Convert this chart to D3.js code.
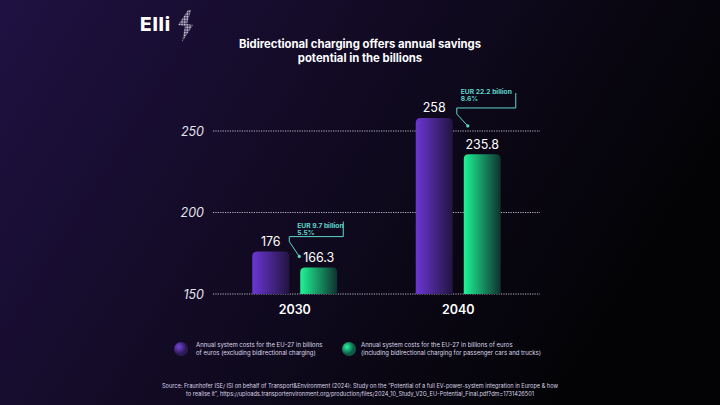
<!DOCTYPE html>
<html>
<head>
<meta charset="utf-8">
<script src="https://cdn.jsdelivr.net/npm/d3@7"></script>
<style>
  html, body { margin: 0; padding: 0; background: #0a0812; }
  svg { display: block; }
  text { font-family: Inter, "Noto Sans", sans-serif; }
</style>
</head>
<body>
<svg id="chart" width="720" height="405"></svg>
<script>
// chart values
const years = ["2030", "2040"];
const series = ["without", "with"];
const withoutV2G = [176, 258];
const withV2G = [166.3, 235.8];
const yTicks = [150, 200, 250];
const savingsText = [["EUR 9.7 billion", "5.5%"], ["EUR 22.2 billion", "8.6%"]];
const legendText = [
    ["Annual system costs for the EU-27 in billions", "of euros (excluding bidirectional charging)"],
    ["Annual system costs for the EU-27 in billions of euros", "(including bidirectional charging for passenger cars and trucks)"]
];
const titleLines = ["Bidirectional charging offers annual savings", "potential in the billions"];
const sourceLines = [
    "Source: Fraunhofer ISE/ ISI on behalf of Transport&Environment (2024): Study on the \u201cPotential of a full EV-power-system integration in Europe & how",
    "to realise it\u201d, https://uploads.transportenvironment.org/production/files/2024_10_Study_V2G_EU-Potential_Final.pdf?dm=1731426501"
];

const svg = d3.select("#chart");
const defs = svg.append("defs");

// background
let bg = defs.append("linearGradient").attr("id", "bg").attr("x1", 0).attr("y1", 0).attr("x2", 1).attr("y2", 0.35);
bg.append("stop").attr("offset", "0%").attr("stop-color", "#1f1142");
bg.append("stop").attr("offset", "45%").attr("stop-color", "#130b26");
bg.append("stop").attr("offset", "100%").attr("stop-color", "#030305");
svg.append("rect").attr("width", 720).attr("height", 405).attr("fill", "url(#bg)");

function barGrad(id, c1, c2) {
    let g = defs.append("linearGradient").attr("id", id).attr("x1", 0).attr("x2", 1).attr("y1", 0).attr("y2", 0);
    g.append("stop").attr("offset", "0%").attr("stop-color", c1);
    g.append("stop").attr("offset", "100%").attr("stop-color", c2);
}
barGrad("gPurple", "#6b36d4", "#221540");
barGrad("gGreen", "#1ef595", "#10302f");
let rg1 = defs.append("radialGradient").attr("id", "dPurple").attr("cx", "35%").attr("cy", "35%");
rg1.append("stop").attr("offset", "0%").attr("stop-color", "#7a45e0");
rg1.append("stop").attr("offset", "100%").attr("stop-color", "#2c1a55");
let rg2 = defs.append("radialGradient").attr("id", "dGreen").attr("cx", "35%").attr("cy", "35%");
rg2.append("stop").attr("offset", "0%").attr("stop-color", "#2af5a0");
rg2.append("stop").attr("offset", "100%").attr("stop-color", "#0d5a48");

// dotted fill for the logo bolt
let pat = defs.append("pattern").attr("id", "dots").attr("patternUnits", "userSpaceOnUse")
    .attr("width", 1.6).attr("height", 1.6);
pat.append("rect").attr("width", 1.1).attr("height", 1.1).attr("fill", "#e2ddf0");

// logo
svg.append("text").attr("x", 140).attr("y", 31)
    .attr("font-size", 19).attr("font-weight", 800).attr("fill", "#ffffff")
    .style("letter-spacing", "0.8px").text("Elli");
svg.append("path")
    .attr("d", "M188,10 L178,25 L185,26 L182,42 L193,25 L187,24 L191,10 Z")
    .attr("fill", "url(#dots)");

// title
svg.append("text").attr("x", 360).attr("y", 48).attr("text-anchor", "middle")
    .attr("font-size", 11.3).attr("font-weight", 700).attr("fill", "#ffffff")
    .selectAll("tspan").data(titleLines).enter().append("tspan")
    .attr("x", 360).attr("dy", (d, i) => i == 0 ? 0 : 14).text(d => d);

// scales
const y = d3.scaleLinear().domain([150, 250]).range([294, 131]);
const x0 = d3.scaleBand().domain(years).range([213, 540]).paddingInner(0.0).paddingOuter(0.0);
const x1 = d3.scaleBand().domain(series).range([0, 85]).paddingInner(0.23);

// grid
svg.append("g").selectAll("line").data(yTicks).enter().append("line")
    .attr("x1", 213).attr("x2", 540)
    .attr("y1", d => y(d)).attr("y2", d => y(d))
    .attr("stroke", "#b9b4c6").attr("stroke-width", 1).attr("stroke-dasharray", "1.2,1.2");
svg.append("g").selectAll("text").data(yTicks).enter().append("text")
    .attr("x", 204).attr("y", d => y(d) + 4.5).attr("text-anchor", "end")
    .attr("font-size", 12.5).attr("font-style", "italic").attr("fill", "#e6e3ee")
    .text(d => d);

// bars
function roundTop(x, yTop, w, h, r) {
    return "M" + x + "," + (yTop + h) + "V" + (yTop + r) + "Q" + x + "," + yTop + " " + (x + r) + "," + yTop +
        "H" + (x + w - r) + "Q" + (x + w) + "," + yTop + " " + (x + w) + "," + (yTop + r) + "V" + (yTop + h) + "Z";
}
const groups = svg.append("g").selectAll("g").data(years).enter().append("g")
    .attr("transform", d => "translate(" + (x0(d) + x0.bandwidth() / 2 - 42.5) + ",0)");

groups.each(function (yr, i) {
    let g = d3.select(this);
    let vals = [withoutV2G[i], withV2G[i]];
    series.forEach(function (s, j) {
        let bx = x1(s);
        let top = y(vals[j]);
        g.append("path")
            .attr("d", roundTop(bx, top, x1.bandwidth(), y(150) - top, 5))
            .attr("fill", j == 0 ? "url(#gPurple)" : "url(#gGreen)");
        g.append("text").attr("x", bx + x1.bandwidth() / 2).attr("y", top - 5.5)
            .attr("text-anchor", "middle").attr("font-size", 12.5).attr("fill", "#ffffff")
            .text(vals[j]);
    });
    g.append("text").attr("x", 42.5).attr("y", 313.5).attr("text-anchor", "middle")
        .attr("font-size", 12.5).attr("font-weight", 600).attr("fill", "#ffffff").text(yr);

    // savings callout
    let cx = x1("with");
    let top0 = y(vals[0]);
    let boxRight = cx + (i == 0 ? 43 : 52);
    let tx = cx - 3;
    g.append("text").attr("x", tx).attr("y", top0 - 24).attr("font-size", 6.7).attr("font-weight", 700)
        .attr("fill", "#5fd6cc").text(savingsText[i][0]);
    g.append("text").attr("x", tx).attr("y", top0 - 17).attr("font-size", 6.7).attr("font-weight", 700)
        .attr("fill", "#5fd6cc").text(savingsText[i][1]);
    let pts = [
        [boxRight, top0 - (i == 0 ? 30 : 25)],
        [boxRight, top0 - (i == 0 ? 15 : 10)],
        [cx - (i == 0 ? 11 : 7), top0 - (i == 0 ? 15 : 10)],
        [cx - (i == 0 ? 11 : 7), top0 - (i == 0 ? 10 : 4)],
        i == 0 ? [cx - 1, y(vals[1]) - 11] : [cx + 4, top0 + 8]
    ];
    g.append("path").attr("d", d3.line()(pts)).attr("fill", "none")
        .attr("stroke", "#5fd6cc").attr("stroke-width", 1);
    g.append("circle").attr("cx", pts[4][0]).attr("cy", pts[4][1]).attr("r", 1.6).attr("fill", "#5fd6cc");
});

// legend
const legend = svg.append("g");
[[181, 196, "url(#dPurple)"], [349, 361, "url(#dGreen)"]].forEach(function (p, i) {
    legend.append("circle").attr("cx", p[0]).attr("cy", 349).attr("r", 7).attr("fill", p[2]);
    legend.append("text").attr("font-size", 6).attr("fill", "#dcd8e6")
        .selectAll("tspan").data(legendText[i]).enter().append("tspan")
        .attr("x", p[1]).attr("y", (d, k) => 347 + k * 8).text(d => d);
});

// source
svg.append("text").attr("text-anchor", "middle").attr("font-size", 5.6).attr("fill", "#d8d4e2")
    .selectAll("tspan").data(sourceLines).enter().append("tspan")
    .attr("x", 360).attr("y", (d, k) => 388 + k * 7.5).text(d => d);
</script>
</body>
</html>
